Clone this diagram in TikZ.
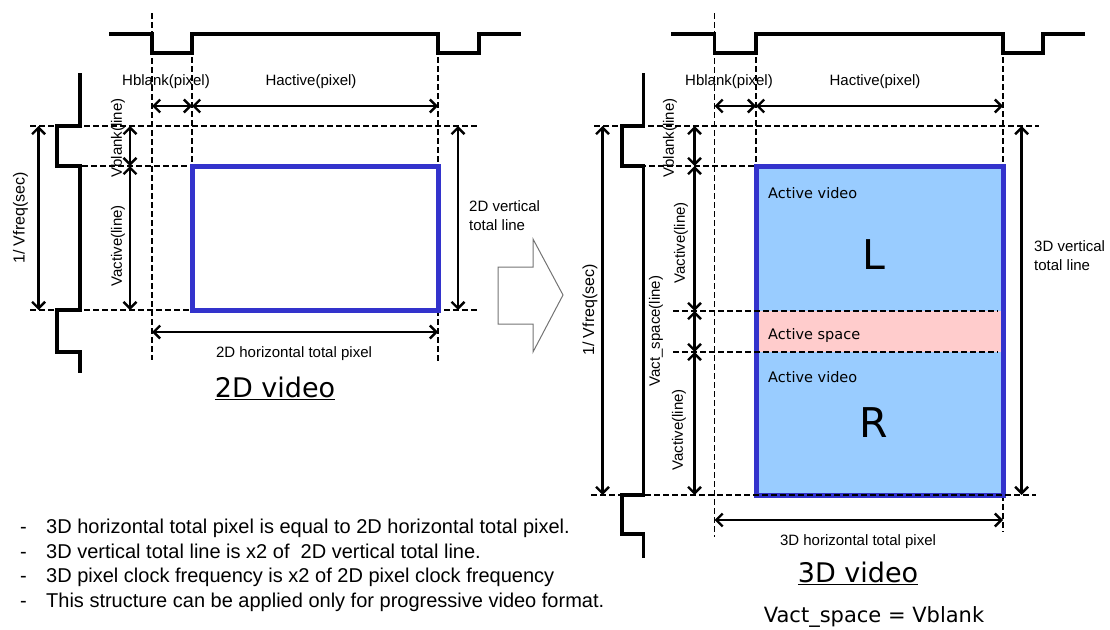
\documentclass[tikz,border=0pt]{standalone}
\usepackage{fontspec}
\setmainfont{Liberation Sans}
\newfontfamily\tah{DejaVu Sans}
\usetikzlibrary{arrows.meta}
\definecolor{vblue}{HTML}{3333CC}
\definecolor{vfill}{HTML}{99CCFF}
\definecolor{vpink}{HTML}{FFCCCC}
\begin{document}
\begin{tikzpicture}[x=1pt,y=-1pt,
  wave/.style={line width=3.2pt, line join=miter},
  dashln/.style={dash pattern=on 5.5pt off 3.5pt, line width=1.8pt},
  dim/.style={line width=2.4pt, {Straight Barb[length=6.5pt,width=13pt]}-{Straight Barb[length=6.5pt,width=13pt]}},
  lbl/.style={font=\fontsize{15}{19}\selectfont, inner sep=0pt},
  vlbl/.style={lbl, rotate=90},
  bigt/.style={font=\tah\fontsize{27}{30}\selectfont, inner sep=0pt},
  intxt/.style={font=\tah\fontsize{14.5}{17}\selectfont, inner sep=0pt, anchor=west},
  lr/.style={font=\tah\fontsize{41}{45}\selectfont, inner sep=0pt},
  bul/.style={font=\fontsize{20}{24}\selectfont, inner sep=0pt, anchor=base west}
]
\useasboundingbox (0,0) rectangle (1110,629);

% ================= 2D =================
\draw[wave] (109,34) -| (152,53) -| (192,34) -| (438,53) -| (479,34) -- (521,34);
\draw[wave] (80,73) |- (57,126) |- (80,166) |- (57,310) |- (80,352) -- (80,373);

\draw[dashln] (152,13) -- (152,360);
\draw[dashln] (192,57) -- (192,166);
\draw[dashln] (438,57) -- (438,166);
\draw[dashln] (438,310) -- (438,362);
\draw[dashln] (30,126) -- (477,126);
\draw[dashln] (82,166) -- (192,166);
\draw[dashln] (30,310) -- (477,310);
\draw[vblue, line width=5pt] (192,166) rectangle (438,310);

\coordinate (a1) at (152,106); \coordinate (a2) at (192,106); \coordinate (a3) at (438,106);
\draw[dim] (a1) -- (a2);
\draw[dim] (a2) -- (a3);
\coordinate (f1) at (38.6,126); \coordinate (f2) at (38.6,310);
\draw[dim] (f1) -- (f2);
\coordinate (v1) at (130,126); \coordinate (v2) at (130,166); \coordinate (v3) at (130,310);
\draw[dim] (v1) -- (v2);
\draw[dim] (v2) -- (v3);
\coordinate (t1) at (458,126); \coordinate (t2) at (458,310);
\draw[dim] (t1) -- (t2);
\coordinate (h1) at (152,332); \coordinate (h2) at (438,332);
\draw[dim] (h1) -- (h2);

\node[lbl] (lhb) at (166,82) {Hblank(pixel)};
\node[lbl] (lha) at (311,82) {Hactive(pixel)};
\node[vlbl, font=\fontsize{16}{19}\selectfont] (lvf) at (20.5,218) {1/ Vfreq(sec)};
\node[vlbl] (lvb) at (118,138) {Vblank(line)};
\node[vlbl] (lva) at (118,246) {Vactive(line)};
\node[lbl, anchor=west, align=left] (lvt) at (469,215.5) {2D vertical\\total line};
\node[lbl] (lht) at (294,354) {2D horizontal total pixel};
\node[bigt] (l2d) at (275,388) {\underline{2D video}};

% hollow arrow
\draw[black!55, line width=1pt, line join=miter] (498,267) -- (533,267) -- (533,239) -- (563,295) -- (533,352) -- (533,324) -- (498,324) -- cycle;

% ================= 3D =================
\draw[wave] (671,34) -| (714.5,53) -| (756,34) -| (1003,53) -| (1043,34) -- (1085,34);
\draw[wave] (643.6,73) |- (622,126) |- (643.6,166) |- (622,495) |- (643.6,534) -- (643.6,558);

\draw[dashln] (714.5,13) -- (714.5,537);
\draw[dashln] (756,57) -- (756,166);
\draw[dashln] (1003,57) -- (1003,166);
\draw[dashln] (1003,495) -- (1003,532);
\draw[dashln] (594,126) -- (1039,126);
\draw[dashln] (622,166) -- (756,166);

\fill[vfill] (756,166) rectangle (1003,495);
\fill[vpink] (756,311) rectangle (1003,352);
\draw[vblue, line width=5pt] (756,166) rectangle (1003,495);
\draw[dashln] (673,311) -- (998,311);
\draw[dashln] (673,352) -- (998,352);
\draw[dashln] (591,495) -- (1036,495);

\coordinate (b1) at (714.5,106); \coordinate (b2) at (756,106); \coordinate (b3) at (1003,106);
\draw[dim] (b1) -- (b2);
\draw[dim] (b2) -- (b3);
\coordinate (g1) at (602.5,126); \coordinate (g2) at (602.5,495);
\draw[dim] (g1) -- (g2);
\coordinate (w1) at (694.5,126); \coordinate (w2) at (694.5,166); \coordinate (w3) at (694.5,311);
\coordinate (w4) at (694.5,352); \coordinate (w5) at (694.5,495);
\draw[dim] (w1) -- (w2);
\draw[dim] (w2) -- (w3);
\draw[dim] (w3) -- (w4);
\draw[dim] (w4) -- (w5);
\coordinate (u1) at (1021.6,126); \coordinate (u2) at (1021.6,495);
\draw[dim] (u1) -- (u2);
\coordinate (k1) at (714.5,520); \coordinate (k2) at (1003,520);
\draw[dim] (k1) -- (k2);

\node[lbl] (rhb) at (729,82) {Hblank(pixel)};
\node[lbl] (rha) at (875,82) {Hactive(pixel)};
\node[vlbl, font=\fontsize{16}{19}\selectfont] (rvf) at (590,310) {1/ Vfreq(sec)};
\node[vlbl] (rvb) at (670,138) {Vblank(line)};
\node[vlbl] (rva) at (681,243) {Vactive(line)};
\node[vlbl] (rvs) at (656,331) {Vact\_space(line)};
\node[vlbl] (rvr) at (679,430) {Vactive(line)};
\node[lbl, anchor=west, align=left] (rvt) at (1034,256) {3D vertical\\total line};
\node[lbl] (rht) at (858,542) {3D horizontal total pixel};

\node[intxt] (av1) at (768,193) {Active video};
\node[lr] (ll) at (874,255) {L};
\node[intxt] (as) at (768,335) {Active space};
\node[intxt] (av2) at (768,377) {Active video};
\node[lr] (rr) at (874,423) {R};

\node[bigt] (r3d) at (858,573) {\underline{3D video}};
\node[font=\tah\fontsize{21}{24}\selectfont, inner sep=0pt, anchor=base] (eq) at (874,622) {Vact\_space = Vblank};

% ================= notes =================
\node[bul] (n1) at (20,533) {\makebox[26pt][l]{-}3D horizontal total pixel is equal to 2D horizontal total pixel.};
\node[bul] (n2) at (20,558) {\makebox[26pt][l]{-}3D vertical total line is x2 of \ 2D vertical total line.};
\node[bul] (n3) at (20,582.5) {\makebox[26pt][l]{-}3D pixel clock frequency is x2 of 2D pixel clock frequency};
\node[bul] (n4) at (20,607) {\makebox[26pt][l]{-}This structure can be applied only for progressive video format.};
\end{tikzpicture}
\end{document}
